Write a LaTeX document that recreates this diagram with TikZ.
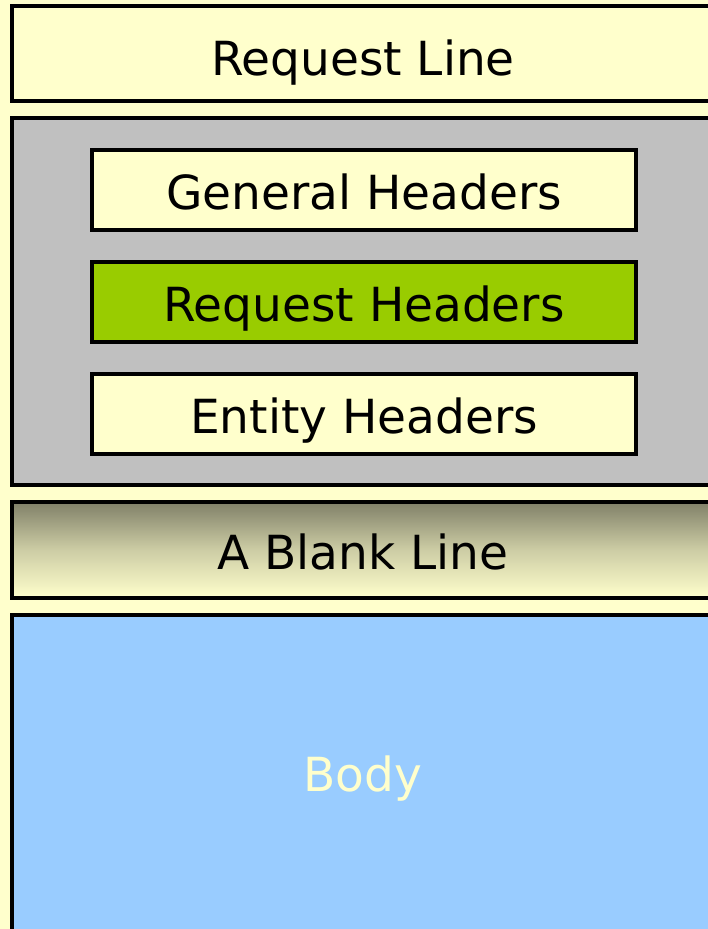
\documentclass[tikz,border=0pt]{standalone}
\usepackage{fontspec}
\setmainfont{DejaVu Sans}
\definecolor{paper}{HTML}{FFFFCC}
\definecolor{panelgray}{HTML}{C0C0C0}
\definecolor{leafgreen}{HTML}{99CC00}
\definecolor{skyblue}{HTML}{99CCFF}
\definecolor{olivetop}{RGB}{128,128,104}
\begin{document}
\begin{tikzpicture}[x=1pt,y=-1pt,
  frame/.style={draw=black,line width=4pt},
  label/.style={font=\fontsize{47}{52}\selectfont,text=black,anchor=base,inner sep=0pt},
]
\useasboundingbox (0,0) rectangle (708,929);
\fill[paper] (0,0) rectangle (708,929);

% request line
\draw[frame,fill=paper] (12,6) rectangle (714,101);
\node[label] (reqline) at (363,75) {Request Line};

% header group
\draw[frame,fill=panelgray] (12,118) rectangle (714,485);
\draw[frame,fill=paper] (92,150) rectangle (636,230);
\node[label] (general) at (364,209) {General Headers};
\draw[frame,fill=leafgreen] (92,262) rectangle (636,342);
\node[label] (request) at (364,321) {Request Headers};
\draw[frame,fill=paper] (92,374) rectangle (636,454);
\node[label] (entity) at (364,433) {Entity Headers};

% blank line with vertical shading
\shade[top color=olivetop,bottom color=paper,middle color={rgb,255:red,205;green,205;blue,165}]
  (12,502) rectangle (714,598);
\draw[frame] (12,502) rectangle (714,598);
\node[label] (blank) at (363,569) {A Blank Line};

% body
\draw[frame,fill=skyblue] (12,615) rectangle (714,945);
\node[label,text=paper] (body) at (363,791) {Body};
\end{tikzpicture}
\end{document}
